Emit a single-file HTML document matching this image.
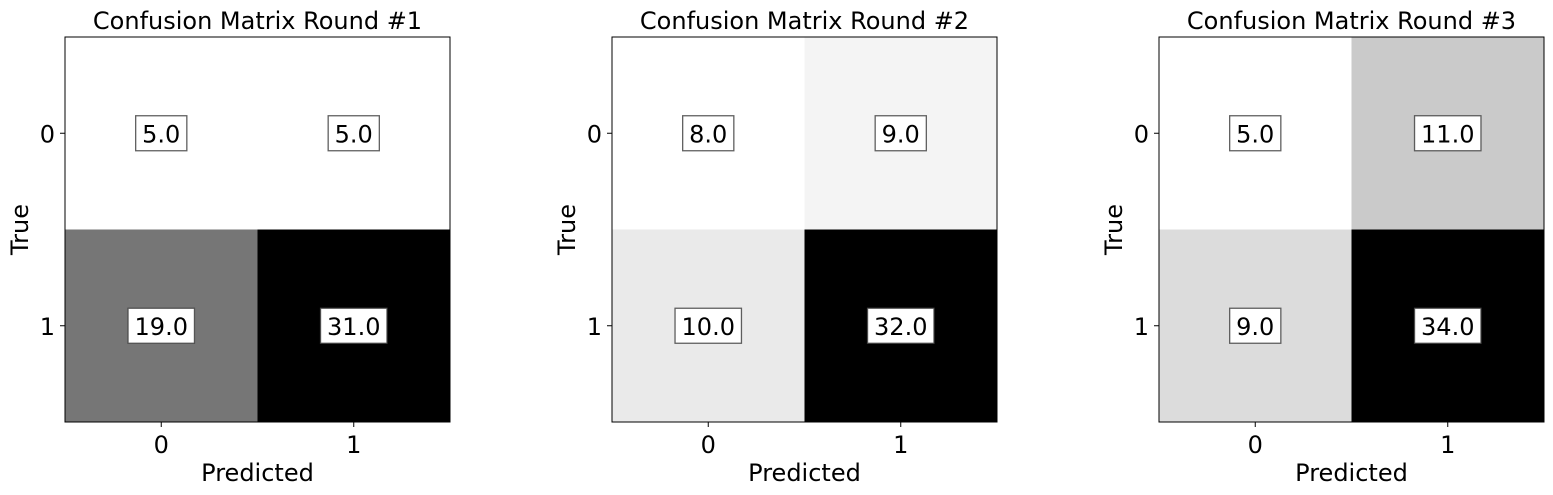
<!DOCTYPE html>
<html><head><meta charset="utf-8"><style>
html,body{margin:0;padding:0;background:#fff;}
svg{display:block;font-family:"DejaVu Sans","Liberation Sans",sans-serif;}
</style></head><body>
<svg id="chart" width="1553" height="495" viewBox="0 0 1553 495"></svg>
<script>
const titles = ["Confusion Matrix Round #1","Confusion Matrix Round #2","Confusion Matrix Round #3"];
const classLabels = ["0","1"];
const round1 = [[5,5],[19,31]];
const round2 = [[8,9],[10,32]];
const round3 = [[5,11],[9,34]];
const matrices = [round1, round2, round3];

const NS = "http://www.w3.org/2000/svg";
const svg = document.getElementById("chart");
const axLefts = [65, 612, 1159];
const axTop = 37, axSize = 385;
const FS = 24;
function mk(tag, attrs, parent){
  const e = document.createElementNS(NS, tag);
  for (const k in attrs) e.setAttribute(k, attrs[k]);
  (parent||svg).appendChild(e);
  return e;
}
matrices.forEach((m, p) => {
  const L = axLefts[p];
  const n = classLabels.length;
  const cell = axSize / n;
  const xs = i => L + i * cell;
  const ys = i => axTop + i * cell;
  const flat = m.flat();
  const mn = Math.min(...flat), mx = Math.max(...flat);
  const g = mk("g", {});
  
  
  for (let r = 0; r < n; r++) for (let c = 0; c < n; c++) {
    const v = m[r][c];
    const gray = Math.round(255 * (1 - (v - mn) / (mx - mn)));
    const rect = mk("rect", {x: xs(c), y: ys(r), width: cell, height: cell, fill: `rgb(${gray},${gray},${gray})`}, g);
    
    
    const txt = v.toFixed(1);
    let tw = 0;
    for (const ch of txt) tw += (ch === "." ? 0.318 : 0.636) * FS;
    const w = tw + 13;
    const cx = xs(c) + cell/2, cy = ys(r) + cell/2;
    const box = mk("rect", {x: cx - w/2, y: cy - 17.5, width: w, height: 35, fill: "#fff", stroke: "#444", "stroke-width": 1.3, "stroke-opacity": 0.85}, g);
    
    
    const t = mk("text", {x: cx, y: cy + 9, "text-anchor": "middle", "font-size": FS, fill: "#000"}, g);
    t.textContent = txt;
    
    
  }
  const frame = mk("rect", {x: L, y: axTop, width: axSize, height: axSize, fill: "none", stroke: "#000", "stroke-width": 1}, g);
  
  
  classLabels.forEach((lab, i) => {
    const cx = xs(i) + cell/2;
    mk("line", {x1: cx, x2: cx, y1: axTop + axSize, y2: axTop + axSize + 5, stroke: "#000"}, g);
    const xt = mk("text", {x: cx, y: axTop + axSize + 31, "text-anchor": "middle", "font-size": FS}, g);
    xt.textContent = lab;
    
    
    const cy = ys(i) + cell/2;
    mk("line", {x1: L - 5, x2: L, y1: cy, y2: cy, stroke: "#000"}, g);
    const yt = mk("text", {x: L - 10, y: cy + 9, "text-anchor": "end", "font-size": FS}, g);
    yt.textContent = lab;
    
    
  });
  const title = mk("text", {x: L + axSize/2, y: 29, "text-anchor": "middle", "font-size": FS}, g);
  title.textContent = titles[p];
  
  
  const xl = mk("text", {x: L + axSize/2, y: 481, "text-anchor": "middle", "font-size": FS}, g);
  xl.textContent = "Predicted";
  
  
  const yl = mk("text", {x: 0, y: 0, "text-anchor": "middle", "font-size": FS, transform: `translate(${L - 37},${axTop + axSize/2}) rotate(-90)`}, g);
  yl.textContent = "True";
  
  
});
</script>
</body></html>
